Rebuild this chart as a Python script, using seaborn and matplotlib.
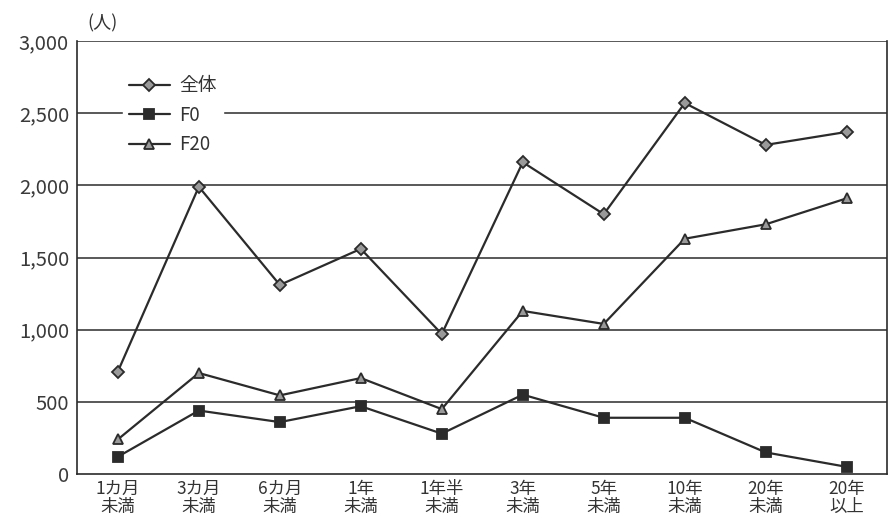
import matplotlib.pyplot as plt
import seaborn as sns
import pandas as pd

categories = ['1カ月\n未満', '3カ月\n未満', '6カ月\n未満', '1年\n未満', '1年半\n未満',
              '3年\n未満', '5年\n未満', '10年\n未満', '20年\n未満', '20年\n以上']
total = [710, 1990, 1310, 1560, 970, 2160, 1800, 2570, 2280, 2370]
f0 = [120, 440, 360, 470, 280, 550, 390, 390, 150, 50]
f20 = [240, 700, 545, 665, 450, 1130, 1040, 1630, 1730, 1910]
series_names = ['全体', 'F0', 'F20']

sns.set_style('white')
plt.rcParams['font.family'] = ['Noto Sans CJK JP', 'DejaVu Sans']

df = pd.DataFrame({
    'pos': list(range(len(categories))) * 3,
    'value': total + f0 + f20,
    'series': [s for s in series_names for _ in categories],
})

ink = '#2b2b2b'
fig = plt.figure(figsize=(8.89, 5.25), dpi=100)
ax = fig.add_axes([0.087, 0.097, 0.911, 0.825])

for grid_y in [500, 1000, 1500, 2000, 2500, 3000]:
    ax.axhline(grid_y, color=ink, lw=1.1, zorder=1)

markers = {'全体': 'D', 'F0': 's', 'F20': '^'}
faces = {'全体': '#9a9a9a', 'F0': ink, 'F20': '#9a9a9a'}
sizes = {'全体': 6, 'F0': 7, 'F20': 7}
for name in series_names:
    sub = df[df['series'] == name]
    sns.lineplot(data=sub, x='pos', y='value', ax=ax, color=ink, lw=1.6,
                 marker=markers[name], markersize=sizes[name],
                 markerfacecolor=faces[name], markeredgecolor=ink,
                 markeredgewidth=1.3, label=name, zorder=3)

ax.set_xlim(-0.5, len(categories) - 0.5)
ax.set_ylim(0, 3000)
ax.set_yticks([0, 500, 1000, 1500, 2000, 2500, 3000])
ax.set_yticklabels(['0', '500', '1,000', '1,500', '2,000', '2,500', '3,000'],
                   fontsize=14.5, color='#3a3a3a')
ax.set_xticks(range(len(categories)))
ax.set_xticklabels(categories, fontsize=12.5, color='#333333', linespacing=1.0)
ax.set_xticks([i + 0.5 for i in range(len(categories) - 1)], minor=True)
ax.tick_params(axis='x', which='major', length=0, pad=4)
ax.tick_params(axis='x', which='minor', direction='in', length=5, width=1, color=ink)
ax.tick_params(axis='y', length=0, pad=6)
ax.set_xlabel('')
ax.set_ylabel('')

for side in ['left', 'bottom', 'right']:
    ax.spines[side].set_color(ink)
    ax.spines[side].set_linewidth(1.2)
ax.spines['top'].set_visible(False)

leg = ax.legend(loc='upper left', bbox_to_anchor=(0.045, 0.955), frameon=True,
                fontsize=13.5, handlelength=2.2, handletextpad=0.5,
                labelspacing=0.45, borderpad=0.3)
leg.get_frame().set_facecolor('white')
leg.get_frame().set_edgecolor('white')
leg.get_frame().set_alpha(1)
for t in leg.get_texts():
    t.set_color('#333333')

ax.text(0.012, 1.02, '(人)', transform=ax.transAxes, fontsize=13, color='#333333',
        ha='left', va='bottom')

fig.savefig('out.png', dpi=100)
